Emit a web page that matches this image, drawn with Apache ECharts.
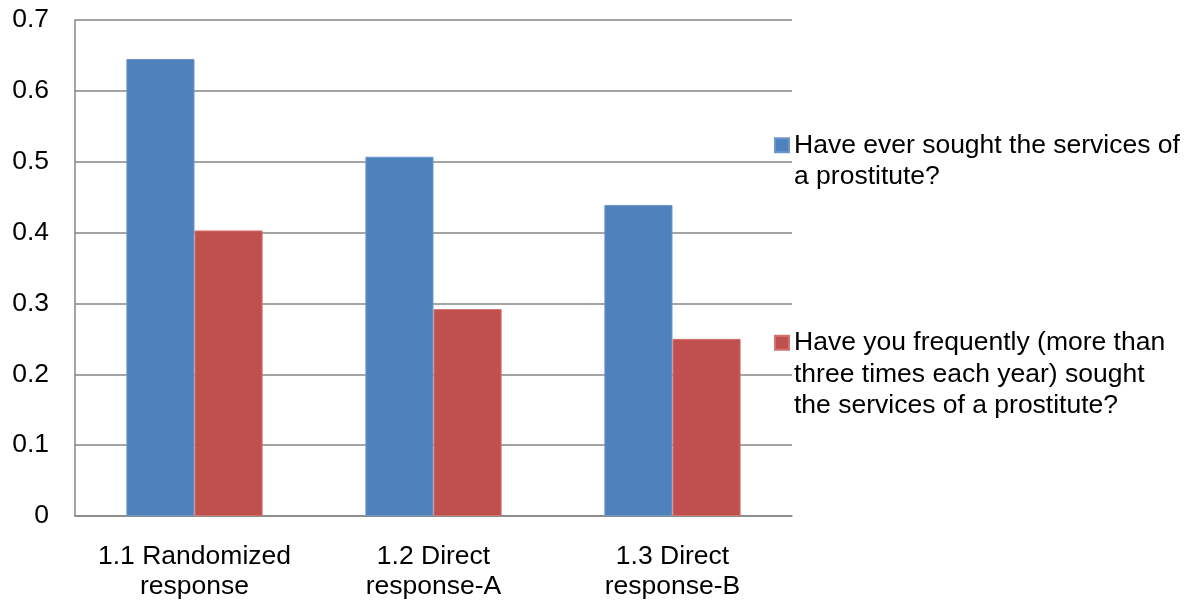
<!DOCTYPE html>
<html>
<head>
<meta charset="utf-8">
<script src="https://cdn.jsdelivr.net/npm/echarts@6/dist/echarts.min.js"></script>
<style>html,body{margin:0;padding:0;background:#fff}#c{width:1190px;height:602px}</style>
</head>
<body>
<div id="c"></div>
<script>
const categories = ['1.1 Randomized\nresponse', '1.2 Direct\nresponse-A', '1.3 Direct\nresponse-B'];
const seriesNames = ['Have ever sought the services of\na prostitute?', 'Have you frequently (more than\nthree times each year) sought\nthe services of a prostitute?'];
const everSought = [0.645, 0.507, 0.439];
const frequentlySought = [0.403, 0.292, 0.250];
const yMin = 0, yMax = 0.7, yStep = 0.1;

const FONT = '"Liberation Sans", Arial, sans-serif';
const FS = 26.5;
const chart = echarts.init(document.getElementById('c'));
const LH = 31.5;
function legendFor(name, top) {
  const lines = name.split('\n').length;
  return {
    orient: 'vertical', left: 774, top: top, padding: 0,
    itemWidth: 14, itemHeight: 14, itemGap: 0,
    icon: 'rect',
    data: [name],
    selectedMode: false,
    formatter: n => '\n'.repeat(lines - 1) + n,
    textStyle: { fontFamily: FONT, fontSize: FS, color: '#000', lineHeight: LH }
  };
}
chart.setOption({
  animation: false,
  textStyle: { fontFamily: FONT },
  grid: { left: 75, right: 398, top: 20, bottom: 86, containLabel: false, outerBoundsMode: 'none' },
  legend: [legendFor(seriesNames[0], 98), legendFor(seriesNames[1], 264)],
  xAxis: {
    type: 'category', data: categories,
    axisLine: { lineStyle: { color: '#868686', width: 1.5 } },
    axisTick: { show: false },
    axisLabel: { interval: 0, fontSize: FS, color: '#000', lineHeight: 30.5, margin: 25, fontFamily: FONT }
  },
  yAxis: {
    type: 'value', min: yMin, max: yMax, interval: yStep,
    axisLine: { show: true, lineStyle: { color: '#868686', width: 1.5 } },
    axisTick: { show: false },
    splitLine: { lineStyle: { color: '#868686', width: 1.5 } },
    axisLabel: { fontSize: FS, color: '#000', margin: 26, fontFamily: FONT, padding: [4, 0, 0, 0],
      formatter: v => v === 0 ? '0' : v.toFixed(1) }
  },
  series: [
    { name: seriesNames[0], type: 'bar', data: everSought, barGap: '0%', barCategoryGap: '43%',
      itemStyle: { color: '#4F81BD', borderColor: '#6C97CB', borderWidth: 1 } },
    { name: seriesNames[1], type: 'bar', data: frequentlySought, barGap: '0%', barCategoryGap: '43%',
      itemStyle: { color: '#C0504D', borderColor: '#D27370', borderWidth: 1 } }
  ]
});
</script>
</body>
</html>
